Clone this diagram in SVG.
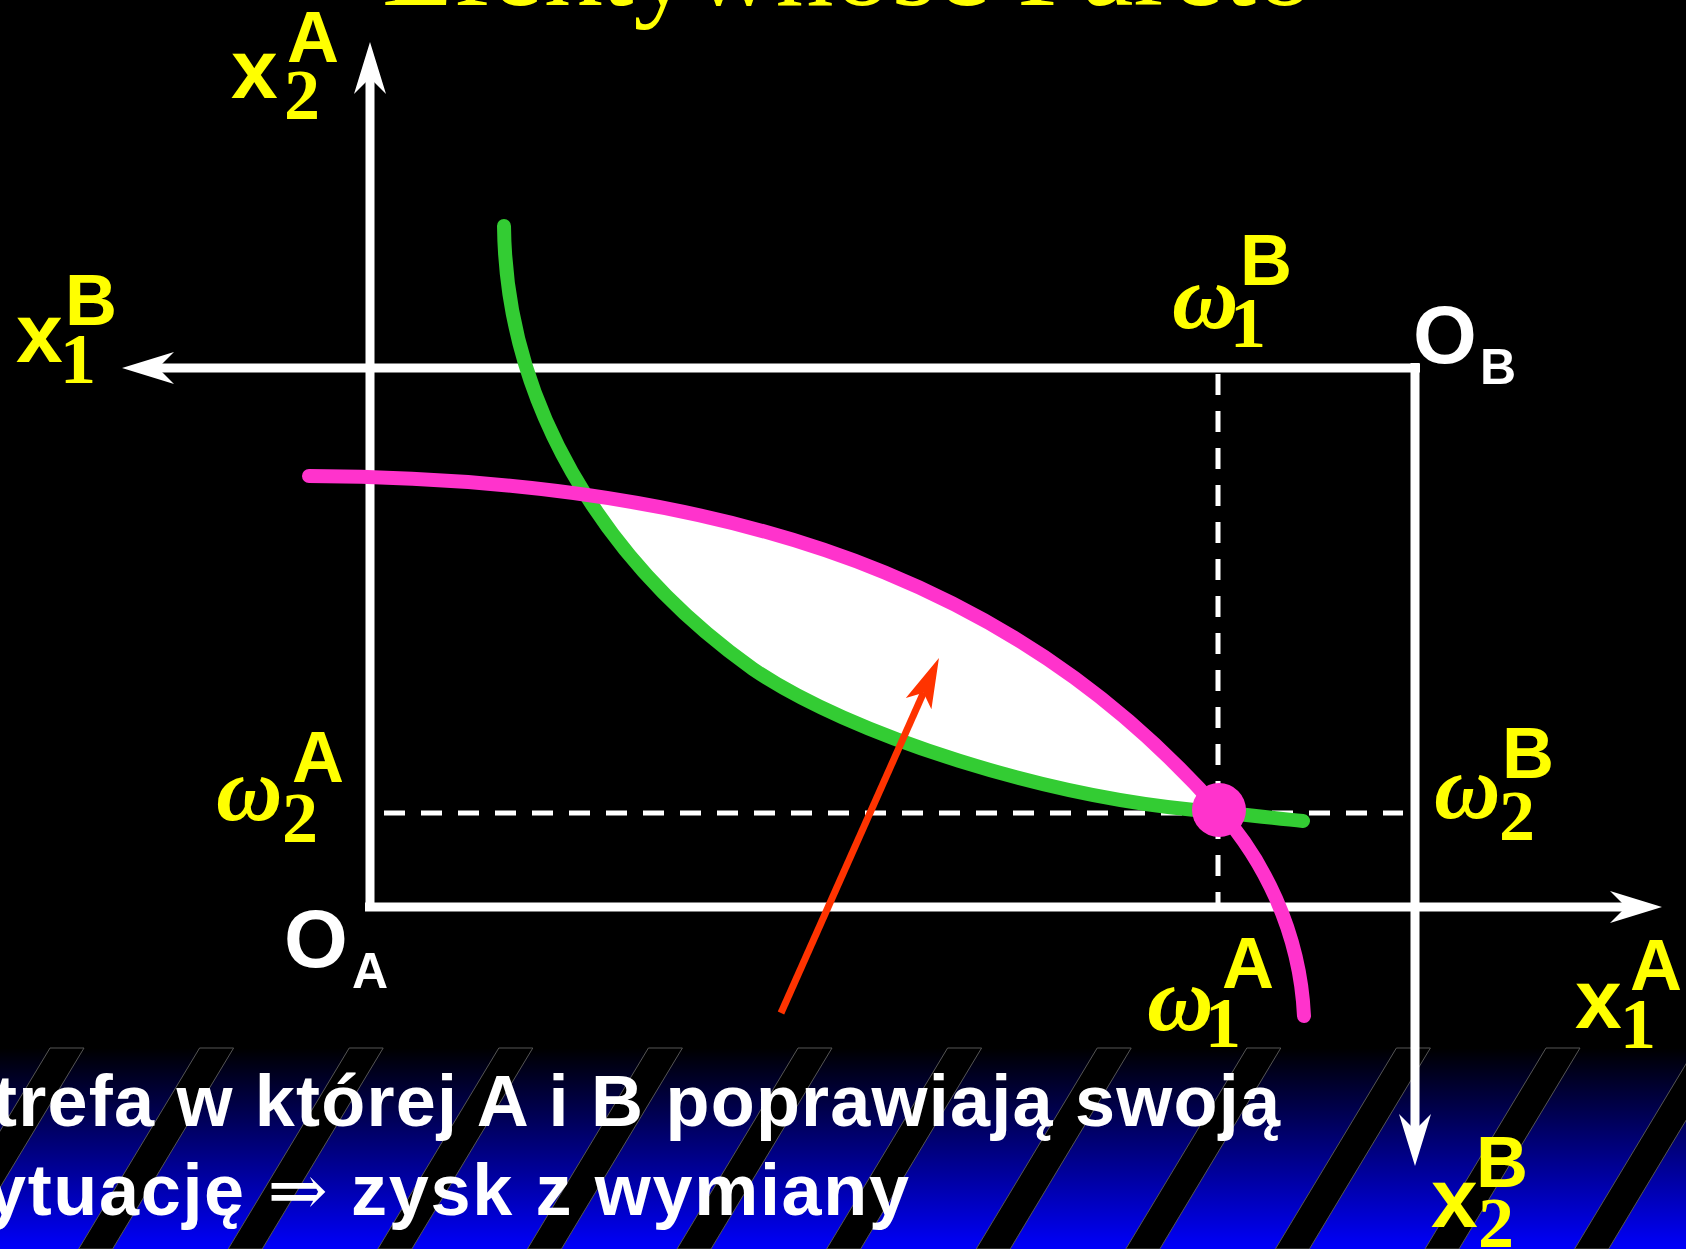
<svg xmlns="http://www.w3.org/2000/svg" width="1686" height="1249" viewBox="0 0 1686 1249">
<defs>
<style>
.ax{fill:none;stroke:#fff;stroke-width:9}
.dash{fill:none;stroke:#fff;stroke-width:5;stroke-dasharray:21 16}
.lbl{fill:#FFFF00}
.base{font-family:"Liberation Sans",Arial,sans-serif;font-weight:bold;font-size:84px}
.sup{font-family:"Liberation Sans",Arial,sans-serif;font-weight:bold;font-size:72px}
.sub{font-family:"Liberation Serif","Times New Roman",serif;font-weight:bold;font-size:72px}
.om{font-family:"Liberation Serif","Times New Roman",serif;font-style:italic;font-weight:bold;font-size:92px}
.org{fill:#fff;font-family:"Liberation Sans",Arial,sans-serif;font-weight:bold}
.ob{font-size:82px}
.obs{font-size:50px}
.stripe{fill:#000;stroke:#555;stroke-width:1}
.btxt{font-family:"Liberation Sans",Arial,sans-serif;font-weight:bold;font-size:72px;fill:#fff}
</style>
<linearGradient id="bg" x1="0" y1="0" x2="0" y2="1">
<stop offset="0" stop-color="#000000"/>
<stop offset="1" stop-color="#0000FA"/>
</linearGradient>
<marker id="wa" viewBox="-20 -18 60 36" markerWidth="60" markerHeight="36" refX="0" refY="0" orient="auto" markerUnits="userSpaceOnUse">
<path d="M36,0 L-16,-16 L0,0 L-16,16 Z" fill="#fff"/>
</marker>
<marker id="ra" viewBox="-16 -16 58 32" markerWidth="58" markerHeight="32" refX="0" refY="0" orient="auto" markerUnits="userSpaceOnUse">
<path d="M38,0 L-12,-14 L0,0 L-12,14 Z" fill="#FF3300"/>
</marker>
<clipPath id="belowM">
<path d="M309,476 C800,478 1050,620 1219,810 L1219,1249 L309,1249 Z"/>
</clipPath>
</defs>
<rect x="0" y="0" width="1686" height="1249" fill="#000"/>

<g id="banner">
<rect x="0" y="1048" width="1686" height="201" fill="url(#bg)"/>
<g id="stripes">
<polygon class="stripe" points="50,1048 84,1048 -37,1249 -71,1249"/>
<polygon class="stripe" points="199.6,1048 233.6,1048 112.6,1249 78.6,1249"/>
<polygon class="stripe" points="349.2,1048 383.2,1048 262.2,1249 228.2,1249"/>
<polygon class="stripe" points="498.8,1048 532.8,1048 411.8,1249 377.8,1249"/>
<polygon class="stripe" points="648.4,1048 682.4,1048 561.4,1249 527.4,1249"/>
<polygon class="stripe" points="798,1048 832,1048 711,1249 677,1249"/>
<polygon class="stripe" points="947.6,1048 981.6,1048 860.6,1249 826.6,1249"/>
<polygon class="stripe" points="1097.2,1048 1131.2,1048 1010.2,1249 976.2,1249"/>
<polygon class="stripe" points="1246.8,1048 1280.8,1048 1159.8,1249 1125.8,1249"/>
<polygon class="stripe" points="1396.4,1048 1430.4,1048 1309.4,1249 1275.4,1249"/>
<polygon class="stripe" points="1546,1048 1580,1048 1459,1249 1425,1249"/>
<polygon class="stripe" points="1695.6,1048 1729.6,1048 1608.6,1249 1574.6,1249"/>
</g>
<text class="btxt" x="-7" y="1126" textLength="1287" lengthAdjust="spacing">trefa w której A i B poprawiają swoją</text>
<text class="btxt" x="-14" y="1215" textLength="923" lengthAdjust="spacing">ytuację <tspan font-family="DejaVu Serif, serif" font-weight="normal">⇒</tspan> zysk z wymiany</text>
</g>

<g id="title">
<text x="382" y="5" font-family="Liberation Serif, Times New Roman, serif" font-size="116" fill="#FFFF00" textLength="932" lengthAdjust="spacing">Efektywność Pareto</text>
</g>

<g id="connectors">
<path class="ax" d="M370,911 V78" marker-end="url(#wa)"/>
<path class="ax" d="M365,907 H1626" marker-end="url(#wa)"/>
<path class="ax" d="M1420,368 H158" marker-end="url(#wa)"/>
<path class="ax" d="M1415,363 V1130" marker-end="url(#wa)"/>
<path class="dash" d="M384,813 H1403"/>
<path class="dash" d="M1218,374 V906"/>
</g>

<g id="lens">
<path d="M504,226 C506,400 600,560 753,669 C850,735 1050,800 1219,812 L1219,226 Z" fill="#fff" clip-path="url(#belowM)"/>
</g>
<g id="curveA">
<path d="M504,226 C506,400 600,560 753,669 C850,735 1050,800 1219,812 C1250,815 1280,819 1303,821" fill="none" stroke="#33CC33" stroke-width="14" stroke-linecap="round"/>
</g>
<g id="curveB">
<path d="M309,476 C800,478 1050,620 1219,810 C1262,858 1300,930 1304,1016" fill="none" stroke="#FF33CC" stroke-width="14" stroke-linecap="round"/>
</g>
<g id="endowment">
<circle cx="1219" cy="810" r="27" fill="#FF33CC"/>
</g>
<g id="pointer">
<path d="M781,1013 L923.5,692.7" fill="none" stroke="#FF3300" stroke-width="7" marker-end="url(#ra)"/>
</g>

<g id="label-x2A"><text class="lbl"><tspan class="base" x="231" y="98">x</tspan><tspan class="sup" x="287" y="62">A</tspan><tspan class="sub" x="284" y="119">2</tspan></text></g>
<g id="label-x1B"><text class="lbl"><tspan class="base" x="16" y="362">x</tspan><tspan class="sup" x="65" y="325">B</tspan><tspan class="sub" x="60" y="383">1</tspan></text></g>
<g id="label-w1B"><text class="lbl"><tspan class="om" x="1172" y="328">ω</tspan><tspan class="sup" x="1240" y="285">B</tspan><tspan class="sub" x="1230" y="347">1</tspan></text></g>
<g id="label-OB"><text class="org"><tspan class="ob" x="1413" y="363">O</tspan><tspan class="obs" x="1480" y="384">B</tspan></text></g>
<g id="label-w2A"><text class="lbl"><tspan class="om" x="216" y="820">ω</tspan><tspan class="sup" x="292" y="782">A</tspan><tspan class="sub" x="282" y="842">2</tspan></text></g>
<g id="label-OA"><text class="org"><tspan class="ob" x="284" y="967">O</tspan><tspan class="obs" x="352" y="988">A</tspan></text></g>
<g id="label-w2B"><text class="lbl"><tspan class="om" x="1434" y="818">ω</tspan><tspan class="sup" x="1502" y="778">B</tspan><tspan class="sub" x="1499" y="840">2</tspan></text></g>
<g id="label-x1A"><text class="lbl"><tspan class="base" x="1575" y="1028">x</tspan><tspan class="sup" x="1630" y="990">A</tspan><tspan class="sub" x="1620" y="1048">1</tspan></text></g>
<g id="label-w1A"><text class="lbl"><tspan class="om" x="1147" y="1030">ω</tspan><tspan class="sup" x="1222" y="988">A</tspan><tspan class="sub" x="1205" y="1047">1</tspan></text></g>
<g id="label-x2B"><text class="lbl"><tspan class="base" x="1431" y="1227">x</tspan><tspan class="sup" x="1476" y="1187">B</tspan><tspan class="sub" x="1478" y="1247">2</tspan></text></g>
</svg>
